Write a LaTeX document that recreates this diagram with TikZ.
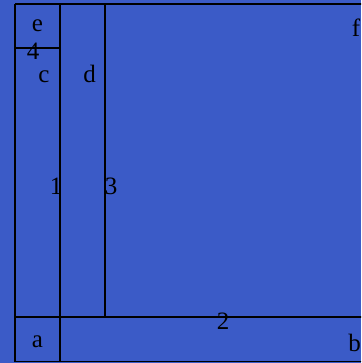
\documentclass[tikz,border=0pt]{standalone}
\usepackage{fontspec}
\setmainfont{Liberation Serif}
\definecolor{panelblue}{RGB}{59,91,199}
\tikzset{lbl/.style={anchor=base,inner sep=0pt,font=\fontsize{25}{30}\selectfont}}
\begin{document}
\begin{tikzpicture}[x=1pt,y=-1pt,line width=1.1pt]
    \fill[panelblue] (0,0) rectangle (361,363);
    \useasboundingbox (0,0) rectangle (361,363);
    \begin{scope}
    \clip (0,0) rectangle (361,363);
    \draw (15,4) -- (365,4);
    \draw (15,361.5) -- (365,361.5);
    \draw (15,317) -- (365,317);
    \draw (15,4) -- (15,361.5);
    \draw (60,4) -- (60,361.5);
    \draw (105,4) -- (105,317);
    \draw (15,48) -- (60,48);
    \end{scope}
    \node[lbl] (le) at (37.5,32) {e};
    \node[lbl] (l4) at (33,60) {4};
    \node[lbl] (lc) at (44,83) {c};
    \node[lbl] (ld) at (89.5,83) {d};
    \node[lbl] (lf) at (356,37) {f};
    \node[lbl] (l1) at (56,194) {1};
    \node[lbl] (l3) at (111,194) {3};
    \node[lbl] (l2) at (223,329) {2};
    \node[lbl] (la) at (37.5,347) {a};
    \node[lbl] (lb) at (354.5,351) {b};
\end{tikzpicture}
\end{document}
